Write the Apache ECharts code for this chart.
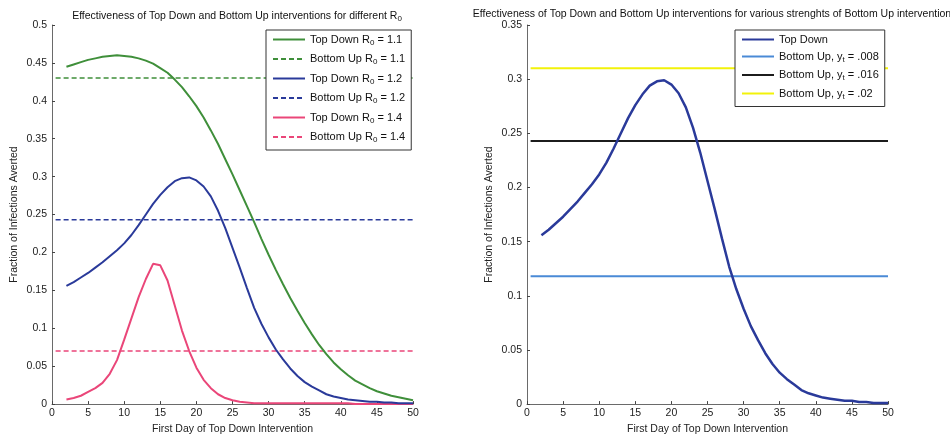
<!DOCTYPE html>
<html>
<head>
<meta charset="utf-8">
<script src="https://cdn.jsdelivr.net/npm/echarts@6/dist/echarts.min.js"></script>
<style>
  html, body { margin: 0; padding: 0; background: #fff; }
  #chart { width: 950px; height: 440px; }
</style>
</head>
<body>
<div id="chart"></div>
<script>
// First day of the top-down intervention (days 2..50)
const days = [2,3,4,5,6,7,8,9,10,11,12,13,14,15,16,17,18,19,20,21,22,23,24,25,26,
  27,28,29,30,31,32,33,34,35,36,37,38,39,40,41,42,43,44,45,46,47,48,49,50];

// Fraction of infections averted by the top-down intervention, per R0
const topDownR11 = [0.445,0.448,0.451,0.454,0.456,0.458,0.459,0.460,0.459,0.458,0.456,0.453,0.449,
  0.443,0.437,0.428,0.418,0.406,0.393,0.378,0.361,0.343,0.323,0.303,0.282,0.261,0.240,0.218,
  0.197,0.177,0.158,0.140,0.123,0.107,0.092,0.078,0.066,0.055,0.046,0.038,0.031,0.026,0.021,
  0.017,0.014,0.011,0.009,0.007,0.005];
const topDownR12 = [0.156,0.161,0.167,0.173,0.180,0.187,0.195,0.203,0.212,0.223,0.236,0.250,0.264,
  0.276,0.286,0.294,0.298,0.299,0.295,0.287,0.274,0.255,0.232,0.206,0.180,0.153,0.127,0.106,
  0.088,0.072,0.059,0.047,0.037,0.029,0.023,0.018,0.013,0.010,0.008,0.006,0.005,0.004,0.003,
  0.003,0.002,0.002,0.001,0.001,0.001];
const topDownR14 = [0.006,0.008,0.011,0.016,0.021,0.028,0.040,0.058,0.085,0.113,0.141,0.165,0.185,
  0.183,0.163,0.130,0.097,0.070,0.048,0.032,0.021,0.013,0.008,0.005,0.003,0.002,0.001,0.001,
  0.001,0.001,0.001,0.001,0.001,0.001,0.001,0.001,0.001,0.001,0.001,0.001,0.000,0.000,0.000,
  0.000,0.000,0.000,0.000,0.000,0.000];

// Bottom-up interventions are independent of the start day: constant levels
const flatSpan = [0.5, 50];
const bottomUpR11 = 0.43;
const bottomUpR12 = 0.243;
const bottomUpR14 = 0.07;
const bottomUpYt008 = 0.118;
const bottomUpYt016 = 0.243;
const bottomUpYt02 = 0.31;

const xTicks = { min: 0, max: 50, interval: 5 };
const yLeft = { min: 0, max: 0.5, interval: 0.05 };
const yRight = { min: 0, max: 0.35, interval: 0.05 };

const pairs = (vals) => days.map((d, i) => [d, vals[i]]);
const flat = (v) => flatSpan.map(d => [d, v]);

const FONT = 'Liberation Sans, Arial, sans-serif';
const sub = { s: { fontSize: 8, fontFamily: FONT, color: '#111', padding: [6, 0, 0, 0] } };

function xAxis(gridIndex) {
  return {
    type: 'value', gridIndex, min: xTicks.min, max: xTicks.max, interval: xTicks.interval,
    name: 'First Day of Top Down Intervention', nameLocation: 'middle', nameGap: 17,
    nameTextStyle: { fontFamily: FONT, fontSize: 10.5, color: '#222' },
    axisLine: { lineStyle: { color: '#6a6a6a', width: 1 } },
    axisTick: { inside: true, length: 3, lineStyle: { color: '#444' } },
    axisLabel: { fontFamily: FONT, fontSize: 10.5, color: '#222', margin: 4 },
    splitLine: { show: false }
  };
}
function yAxis(gridIndex, cfg) {
  return {
    type: 'value', gridIndex, min: cfg.min, max: cfg.max, interval: cfg.interval,
    name: 'Fraction of Infections Averted', nameLocation: 'middle', nameGap: 32,
    nameTextStyle: { fontFamily: FONT, fontSize: 10.5, color: '#222' },
    axisLine: { show: true, lineStyle: { color: '#6a6a6a', width: 1 } },
    axisTick: { show: true, inside: true, length: 3, lineStyle: { color: '#444' } },
    axisLabel: { fontFamily: FONT, fontSize: 10.5, color: '#222', margin: 5 },
    splitLine: { show: false }
  };
}
function line(name, data, color, dashed, xi, width) {
  return {
    name, type: 'line', xAxisIndex: xi, yAxisIndex: xi, data,
    showSymbol: false, symbol: 'none', smooth: false, animation: false,
    lineStyle: { color, width: width || 2, type: dashed ? [5, 3] : 'solid' },
    itemStyle: { color }
  };
}

const GREEN = '#3f8f3a', BLUE = '#2a3a9a', PINK = '#ea4679';
const LIGHTBLUE = '#4a8ad6', BLACK = '#1c1c1c', YELLOW = '#f2f20a';

const legendBase = {
  orient: 'vertical', backgroundColor: '#fff', borderColor: '#333', borderWidth: 1,
  itemWidth: 32, itemHeight: 10,
  itemStyle: { opacity: 0, borderWidth: 0 },
  textStyle: { fontFamily: FONT, fontSize: 11, color: '#111', rich: sub },
  formatter: (n) => n.replace('R0', 'R{s|0}').replace('y_t', 'y{s|t}')
};

const option = {
  backgroundColor: '#fff',
  animation: false,
  title: [
    {
      text: 'Effectiveness of Top Down and Bottom Up interventions for different R{s|0}',
      left: 232, top: 4, textAlign: 'center',
      textStyle: { fontFamily: FONT, fontSize: 10.5, fontWeight: 'normal', color: '#111', rich: sub }
    },
    {
      text: 'Effectiveness of Top Down and Bottom Up interventions for various strenghts of Bottom Up intervention',
      left: 707, top: 4, textAlign: 'center',
      textStyle: { fontFamily: FONT, fontSize: 10.5, fontWeight: 'normal', color: '#111' }
    }
  ],
  grid: [
    { left: 52, right: 537, top: 25, bottom: 33 },
    { left: 527, right: 62, top: 25, bottom: 32 }
  ],
  xAxis: [xAxis(0), xAxis(1)],
  yAxis: [yAxis(0, yLeft), yAxis(1, yRight)],
  legend: [
    Object.assign({}, legendBase, {
      left: 266, top: 30, itemGap: 7, padding: [4, 6, 6, 6],
      data: ['Top Down R0 = 1.1', 'Bottom Up R0 = 1.1', 'Top Down R0 = 1.2',
             'Bottom Up R0 = 1.2', 'Top Down R0 = 1.4', 'Bottom Up R0 = 1.4']
    }),
    Object.assign({}, legendBase, {
      left: 735, top: 30, itemGap: 6, padding: [4, 6, 6, 6],
      data: ['Top Down', 'Bottom Up, y_t = .008', 'Bottom Up, y_t = .016', 'Bottom Up, y_t = .02']
    })
  ],
  series: [
    line('Bottom Up R0 = 1.1', flat(bottomUpR11), GREEN, true, 0, 1.5),
    line('Bottom Up R0 = 1.2', flat(bottomUpR12), BLUE, true, 0, 1.5),
    line('Bottom Up R0 = 1.4', flat(bottomUpR14), PINK, true, 0, 1.5),
    line('Top Down R0 = 1.4', pairs(topDownR14), PINK, false, 0),
    line('Top Down R0 = 1.2', pairs(topDownR12), BLUE, false, 0),
    line('Top Down R0 = 1.1', pairs(topDownR11), GREEN, false, 0),
    line('Bottom Up, y_t = .008', flat(bottomUpYt008), LIGHTBLUE, false, 1),
    line('Bottom Up, y_t = .016', flat(bottomUpYt016), BLACK, false, 1),
    line('Bottom Up, y_t = .02', flat(bottomUpYt02), YELLOW, false, 1),
    line('Top Down', pairs(topDownR12), BLUE, false, 1, 2.5)
  ]
};

const chart = echarts.init(document.getElementById('chart'), null, { renderer: 'canvas' });
chart.setOption(option);
</script>
</body>
</html>
